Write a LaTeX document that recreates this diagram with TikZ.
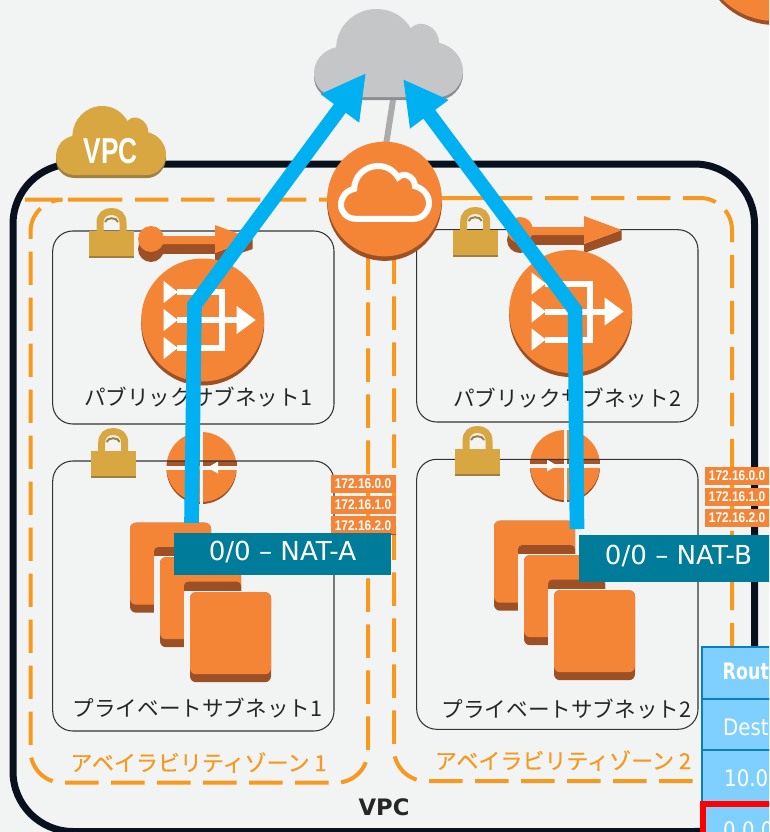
\documentclass[tikz,border=0pt]{standalone}
\usepackage{fontspec}
\setmainfont{DejaVu Sans}
\newfontfamily\cjkfont{Noto Sans CJK JP}
\newfontfamily\cjkzonefont[FakeBold=0.5]{Noto Sans CJK JP}
\newfontfamily\narrowfont{Liberation Sans}
\usetikzlibrary{arrows.meta,shapes.geometric}
\definecolor{pagebg}{HTML}{F2F4F4}
\definecolor{awsor}{HTML}{F58536}
\definecolor{awsdk}{HTML}{9D5025}
\definecolor{vpcline}{HTML}{0A111E}
\definecolor{zoneor}{HTML}{F7981F}
\definecolor{gold}{HTML}{D8A741}
\definecolor{golddk}{HTML}{9E8040}
\definecolor{skyarrow}{HTML}{00B0F0}
\definecolor{tealbox}{HTML}{007C9B}
\definecolor{tablefill}{HTML}{80D0FF}
\definecolor{tableline}{HTML}{0A7FBF}
\definecolor{netgrey}{HTML}{C5C6C8}
\definecolor{netgreydk}{HTML}{8C8D8F}
\newcommand{\cloudoutline}{(17,60) .. controls (7,60) and (0,53) .. (0,44) .. controls (0,35) and (6,28) .. (15,26) .. controls (15,12) and (27,0) .. (42,0) .. controls (52,0) and (60,5) .. (65,13) .. controls (68,10) and (72,9) .. (76,11) .. controls (81,13) and (84,18) .. (84,23) .. controls (93,25) and (100,33) .. (100,42) .. controls (100,52) and (92,60) .. (83,60) -- cycle}
\tikzset{
  x=0.75pt,y=-0.75pt,
  zonebox/.style={draw=zoneor,line width=3pt,rounded corners=24pt,dash pattern=on 25pt off 9.5pt},
  subnetbox/.style={draw=black!80,line width=0.8pt,rounded corners=15pt},
  subnettext/.style={font=\cjkfont\fontsize{16.2}{18}\selectfont,text=black!85,inner sep=0pt},
  zonetext/.style={font=\cjkzonefont\fontsize{16.5}{18}\selectfont,text=zoneor,inner sep=0pt},
  routelabel/.style={text=white,inner sep=0pt,anchor=center,font=\fontsize{19.6}{22}\selectfont},
  iptag/.style={fill=awsor,text=white,inner sep=0pt,minimum width=48.75pt,minimum height=13.5pt,font=\narrowfont\bfseries\fontsize{10.5}{12}\selectfont},
  skyline/.style={draw=skyarrow,line width=11pt,line join=miter,-{Triangle[length=33pt,width=33.5pt]}},
  tablecell/.style={draw=tableline,fill=tablefill,line width=1.5pt},
  tabletext/.style={text=white,inner sep=0pt,anchor=base west,xscale=0.87,transform shape,font=\fontsize{17}{19}\selectfont},
  pics/padlock/.style={code={
    \draw[gold,line width=5.25pt] (11,1) -- (11,-8) .. controls (11,-16) and (16,-19.5) .. (22.5,-19.5) .. controls (29,-19.5) and (34,-16) .. (34,-8) -- (34,1);
    \draw[golddk,line width=1.5pt] (16,-9) .. controls (17,-14) and (28,-14) .. (29,-9);
    \fill[golddk] (0,0) rectangle (45,27);
    \fill[gold] (0,0) rectangle (45,24.5);
  }},
  pics/eiparrow/.style={code={
    \fill[awsdk] (0,10) circle (13);
    \fill[awsdk] (0,5) rectangle (64,15);
    \fill[awsdk] (64,14) -- (101.7,0) -- (101.7,10) -- (64,23) -- cycle;
    \fill[awsor] (0,0) circle (13);
    \fill[awsor] (0,-3) -- (64,-3) -- (64,-14) -- (101.7,0) -- (64,14) -- (64,5) -- (0,5) -- cycle;
  }},
  pics/natsign/.style={code={
    \fill[white] (-39,-39) -- (-25,-28) -- (-39,-17) -- cycle;
    \fill[white] (-39,-11) -- (-25,0) -- (-39,11) -- cycle;
    \fill[white] (-39,17) -- (-25,28) -- (-39,39) -- cycle;
    \draw[white,line width=4.5pt] (-26,-28) -- (19.5,-28) -- (19.5,28) -- (-26,28);
    \draw[white,line width=4.5pt] (-26,0) -- (36,0);
    \fill[white] (34,-14) -- (53,0) -- (34,14) -- cycle;
  }},
  pics/routersign/.style={code={
    \fill[awsdk] (0,2) circle (35);
    \fill[awsor] (0,0) circle (35);
    \fill[awsdk!90!awsor] (-35,-6) rectangle (35,-1);
    \fill[pagebg] (-36,-1) rectangle (36,2.5);
    \fill[pagebg] (-1.5,-36) rectangle (1.5,37);
  }},
  pics/ecfull/.style={code={
    \fill[awsdk,rounded corners=4.5pt] (0,0) rectangle (81,90);
    \fill[awsor,rounded corners=4.5pt] (0,0) rectangle (81,82);
  }},
  pics/ecshell/.style={code={
    \fill[awsdk,rounded corners=4.5pt] (0,0) rectangle (81,90);
    \fill[awsor,rounded corners=4.5pt] (0,0) rectangle (81,82);
    \fill[awsdk,rounded corners=3pt] (24,24.5) rectangle (81,40);
    \fill[pagebg] (24,33.5) rectangle (82,91);
  }},
  pics/ecstack/.style={code={
    \pic at (0,0) {ecshell};
    \pic at (30,34.5) {ecshell};
    \pic at (60,69.5) {ecfull};
  }},
}
\begin{document}
\begin{tikzpicture}
\useasboundingbox (0,0) rectangle (769,832);
\clip (0,0) rectangle (769,832);
\fill[pagebg] (0,0) rectangle (769,832);
% top-right partial service
\fill[awsdk] (775,-50) circle (75);
\fill[awsor] (775,-54) circle (75);
% internet cloud and link to the gateway
\coordinate (netfoot) at (393,100);
\coordinate (igwhead) at (386,145);
\draw[draw=black!33,line width=4.5pt] (netfoot) -- (igwhead);
\begin{scope}[shift={(314,12)},xscale=1.49,yscale=1.47]
  \fill[netgreydk] \cloudoutline;
\end{scope}
\begin{scope}[shift={(314,9)},xscale=1.49,yscale=1.47]
  \fill[netgrey] \cloudoutline;
\end{scope}
% VPC boundary
\draw[vpcline,line width=5.25pt,rounded corners=45pt] (13,164) rectangle (754.5,831.5);
% zones
\draw[zonebox] (57,199.7) -- (368,199.7) -- (368,782.7) -- (30.5,782.7) -- (30.5,199.7) -- cycle;
\draw[zonebox] (421,198) -- (732,198) -- (732,781) -- (394,781) -- (394,198) -- cycle;
% VPC badge
\begin{scope}[shift={(56,109)},xscale=1.1,yscale=1.15]
  \fill[golddk] \cloudoutline;
\end{scope}
\begin{scope}[shift={(56,106)},xscale=1.1,yscale=1.15]
  \fill[gold] \cloudoutline;
\end{scope}
\node[text=white,inner sep=0pt,xscale=0.73,transform shape,font=\narrowfont\bfseries\fontsize{27}{30}\selectfont] (vpcbadge) at (110.5,151) {VPC};
% routers under the private subnet borders
\pic at (201.5,467) {routersign};
\fill[white] (207.5,467.5) -- (218,461.5) -- (218,473.5) -- cycle;
\pic at (565,465) {routersign};
\fill[white] (557,465.5) -- (547,459.5) -- (547,471.5) -- cycle;
% subnets
\draw[subnetbox] (52.7,231) rectangle (334,424);
\draw[subnetbox] (416.7,229.7) rectangle (698,422);
\draw[subnetbox] (52.7,461) rectangle (334,731);
\draw[subnetbox] (416.7,459.3) rectangle (698,729.3);
% padlocks
\pic at (89,231) {padlock};
\pic at (452.7,230) {padlock};
\pic at (90.7,451) {padlock};
\pic at (455,449) {padlock};
% elastic IP arrows and NAT gateways
\pic at (151,239) {eiparrow};
\pic at (520,230) {eiparrow};
\node[circle,fill=awsdk,minimum size=92.25pt,inner sep=0pt] (natAbase) at (202.7,324) {};
\node[circle,fill=awsor,minimum size=92.25pt,inner sep=0pt] (natA) at (202.7,320) {};
\pic at (natA) {natsign};
\node[circle,fill=awsdk,minimum size=92.25pt,inner sep=0pt] (natBbase) at (570.7,315.5) {};
\node[circle,fill=awsor,minimum size=92.25pt,inner sep=0pt] (natB) at (570.7,311.5) {};
\pic at (natB) {natsign};
% subnet names
\node[subnettext] (pubA) at (198,397) {パブリックサブネット1};
\node[subnettext] (pubB) at (567,398) {パブリックサブネット2};
\node[subnettext] (privA) at (197.5,708) {プライベートサブネット1};
\node[subnettext] (privB) at (566.5,709) {プライベートサブネット2};
\node[zonetext] (zoneA) at (198.5,762.5) {アベイラビリティゾーン 1};
\node[zonetext] (zoneB) at (563,760.5) {アベイラビリティゾーン 2};
\node[inner sep=0pt,text=black!85,font=\bfseries\fontsize{17}{20}\selectfont] (vpcname) at (384,807) {VPC};
% internet gateway
\node[circle,fill=awsdk,minimum size=86pt,inner sep=0pt] (igwbase) at (384.5,203.5) {};
\node[circle,fill=awsor,minimum size=86pt,inner sep=0pt] (igw) at (384.5,199) {};
\begin{scope}[shift={(341,166)},xscale=0.88,yscale=0.88]
  \draw[white,line width=4.5pt] \cloudoutline;
\end{scope}
% instances
\pic at (130,522.7) {ecstack};
\pic at (494,520.7) {ecstack};
% address tags
\foreach \tx/\ty/\tlabel/\tname in {363/475/172.16.0.0/ta0,363/496/172.16.1.0/ta1,363/516.7/172.16.2.0/ta2,737/467/172.16.0.0/tb0,737/488/172.16.1.0/tb1,737/509/172.16.2.0/tb2}{
  \fill[awsdk] (\tx-32.5,\ty+14) rectangle (\tx+32.5,\ty+18);
  \node[iptag] (\tname) at (\tx,\ty+8.5) {};
  \node[text=white,inner sep=0pt,xscale=0.85,transform shape,font=\narrowfont\bfseries\fontsize{10.5}{12}\selectfont] at (\tx,\ty+8.5) {\tlabel};
}
% default routes
\coordinate (startA) at (191.5,523);
\coordinate (bendA) at (194.5,305);
\coordinate (tipA) at (366,73);
\coordinate (startB) at (577,529);
\coordinate (bendB) at (575,310);
\coordinate (tipB) at (403,79);
\draw[skyline] (startA) -- (bendA) -- (tipA);
\draw[skyline] (startB) -- (bendB) -- (tipB);
% route labels
\fill[tealbox] (174,533) rectangle (391,575);
\node[routelabel] (labelA) at (282.5,552) {0/0 – NAT-A};
\fill[tealbox] (579,535) rectangle (772,581.7);
\node[routelabel] (labelB) at (678.5,556) {0/0 – NAT-B};
% route table
\draw[tablecell] (702.3,647) rectangle (790,699);
\draw[tablecell] (702.3,699) rectangle (790,749.5);
\draw[tablecell] (702.3,749.5) rectangle (790,804);
\fill[tablefill] (702.3,804) rectangle (790,840);
\draw[red,line width=4.3pt] (703,840) -- (703,804) -- (790,804);
\node[text=white,inner sep=0pt,anchor=base west,xscale=0.77,transform shape,font=\bfseries\fontsize{17}{19}\selectfont] (rowhead) at (722.5,679.5) {Rout};
\node[tabletext] (rowdest) at (723,735) {Dest};
\node[tabletext] (rowten) at (724,786.7) {10.0};
\node[tabletext] (rowzero) at (723,838) {0.0.0};
\end{tikzpicture}
\end{document}
